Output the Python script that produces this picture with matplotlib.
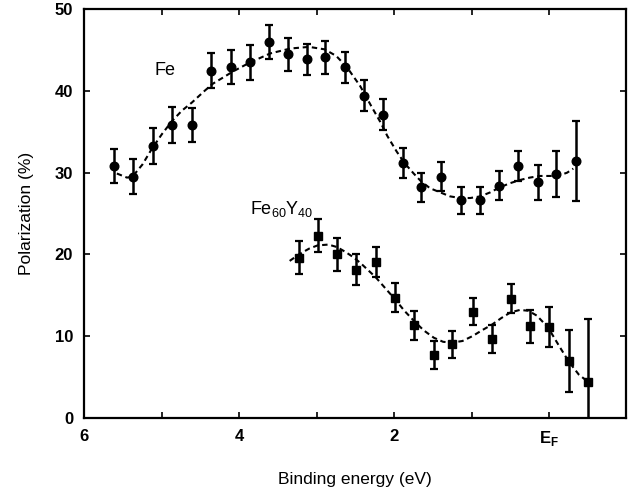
import matplotlib
matplotlib.use("Agg")
import matplotlib.pyplot as plt

plt.rcParams['font.family'] = ['Liberation Sans', 'DejaVu Sans']

# Fe data
fe_E = [5.62, 5.37, 5.12, 4.87, 4.61, 4.37, 4.11, 3.86, 3.62, 3.37, 3.13, 2.89, 2.64,
        2.39, 2.14, 1.89, 1.65, 1.40, 1.14, 0.89, 0.65, 0.40, 0.14, -0.09, -0.34]
fe_P = [30.8, 29.5, 33.3, 35.8, 35.8, 42.5, 42.9, 43.5, 46.0, 44.5, 43.9, 44.1, 42.9,
        39.4, 37.1, 31.2, 28.2, 29.5, 26.6, 26.6, 28.4, 30.8, 28.8, 29.8, 31.4]
fe_err = [2.1, 2.15, 2.2, 2.2, 2.1, 2.1, 2.1, 2.1, 2.1, 2.0, 1.9, 2.0, 1.9,
          1.9, 1.9, 1.8, 1.75, 1.8, 1.6, 1.6, 1.75, 1.85, 2.1, 2.8, 4.9]

# Fe60Y40 data
fy_E = [3.23, 2.99, 2.74, 2.49, 2.24, 1.99, 1.74, 1.49, 1.25, 0.99, 0.74, 0.50,
        0.25, 0.00, -0.25, -0.50]
fy_P = [19.6, 22.3, 20.0, 18.1, 19.1, 14.7, 11.3, 7.7, 9.0, 13.0, 9.6, 14.6,
        11.2, 11.1, 6.9, 4.4]
fy_err = [2.0, 2.0, 2.0, 1.9, 1.85, 1.75, 1.75, 1.75, 1.65, 1.65, 1.7, 1.75,
          2.0, 2.4, 3.8, 7.7]

# dashed fit curves
fe_fit_E = [5.58, 5.45, 5.38, 5.25, 5.13, 5.00, 4.87, 4.74, 4.61, 4.45, 4.34, 4.20,
            4.08, 3.86, 3.60, 3.34, 3.10, 2.90, 2.75, 2.61, 2.44, 2.30, 2.18, 2.09,
            1.97, 1.87, 1.75, 1.66, 1.54, 1.41, 1.28, 1.15, 1.02, 0.89, 0.76, 0.64,
            0.51, 0.38, 0.25, 0.12, -0.02, -0.14, -0.23, -0.31]
fe_fit_P = [29.9, 29.4, 29.5, 31.0, 32.9, 34.7, 36.3, 37.6, 38.6, 40.0, 40.9, 41.7,
            42.4, 43.5, 44.6, 45.2, 45.4, 45.1, 44.3, 42.9, 40.6, 38.2, 36.2, 34.5,
            32.6, 31.2, 29.9, 29.0, 28.1, 27.6, 27.1, 26.9, 26.9, 27.1, 27.6, 28.2,
            28.7, 29.1, 29.4, 29.6, 29.6, 29.7, 30.0, 30.5]

fy_fit_E = [3.35, 3.23, 3.10, 2.99, 2.85, 2.74, 2.63, 2.52, 2.42, 2.33, 2.24, 2.12,
            1.99, 1.87, 1.74, 1.62, 1.49, 1.37, 1.25, 1.12, 0.99, 0.87, 0.74, 0.62,
            0.50, 0.38, 0.27, 0.16, 0.05, 0.00, -0.12, -0.25, -0.38, -0.50]
fy_fit_P = [19.2, 20.0, 20.7, 21.1, 21.2, 20.9, 20.3, 19.6, 18.8, 18.0, 17.2, 15.9,
            14.5, 13.1, 11.8, 10.7, 9.8, 9.3, 9.2, 9.4, 10.0, 10.7, 11.4, 12.2,
            12.9, 13.2, 13.1, 12.5, 11.4, 10.8, 8.9, 6.9, 5.3, 4.4]

xticks = [6, 4, 2, 0]
xtick_labels = ['6', '4', '2', r'E$_\mathregular{F}$']
yticks = [0, 10, 20, 30, 40, 50]

fig = plt.figure(figsize=(6.32, 4.97), dpi=100)
ax = fig.add_axes([0.1334, 0.1594, 0.8571, 0.8219])

ax.plot(fe_fit_E, fe_fit_P, color='black', lw=1.5, ls=(0, (2.6, 1.8)), zorder=2)
ax.plot(fy_fit_E, fy_fit_P, color='black', lw=1.5, ls=(0, (2.6, 1.8)), zorder=2)

ax.errorbar(fe_E, fe_P, yerr=fe_err, fmt='o', color='black', ms=6.2,
            elinewidth=1.8, capsize=3.2, capthick=1.6, zorder=3)
ax.errorbar(fy_E, fy_P, yerr=fy_err, fmt='s', color='black', ms=6.0,
            elinewidth=1.8, capsize=3.2, capthick=1.6, zorder=3)

ax.set_xlim(6, -0.99)
ax.set_ylim(0, 50)
ax.set_xticks(xticks)
ax.set_xticklabels(xtick_labels, fontsize=12, fontweight='bold')
ax.set_xticks([5, 3, 1], minor=True)
ax.set_yticks(yticks)
ax.set_yticklabels([str(v) for v in yticks], fontsize=12, fontweight='bold')
ax.tick_params(which='both', direction='in', top=True, right=True, length=4,
               width=1.2, pad=8)
for s in ax.spines.values():
    s.set_linewidth(1.6)

ax.text(5.09, 41.95, 'Fe', fontsize=13)
ax.text(3.86, 25.0, r'Fe$_\mathregular{60}$Y$_\mathregular{40}$', fontsize=13)

ax.set_xlabel('Binding energy (eV)', fontsize=12.5, labelpad=17)
ax.set_ylabel('Polarization (%)', fontsize=12.5, labelpad=15)

fig.savefig('out.png', dpi=100)
